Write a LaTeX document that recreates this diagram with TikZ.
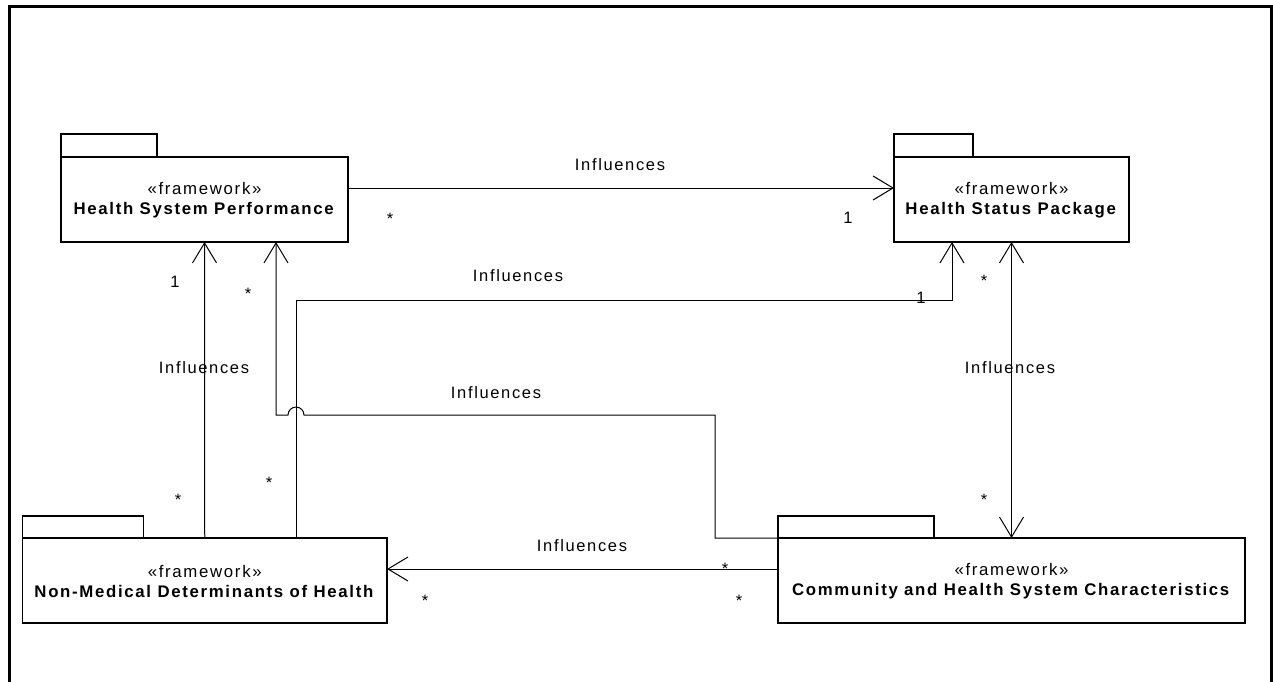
\documentclass[tikz,border=0pt]{standalone}
\usepackage{fontspec}
\newfontfamily\lsf{Liberation Sans}[LetterSpace=10]
\usetikzlibrary{arrows.meta}
\tikzset{
  pkg/.style={draw, line width=1.5pt, outer sep=0pt, inner sep=0pt, align=center,
    minimum height=85pt, font=\lsf\fontsize{16.8}{20}\selectfont},
  tabline/.style={draw, line width=1.5pt},
  conn/.style={line width=1pt},
  lbl/.style={anchor=base, inner sep=0pt, font=\lsf\fontsize{16.5}{19}\selectfont},
  >={Straight Barb[length=20pt,width=24pt]}
}
\begin{document}
\begin{tikzpicture}[x=1pt,y=-1pt]
\useasboundingbox (0,0) rectangle (1273,681);
% frame
\draw[line width=3pt] (9.5,690) -- (9.5,6.5) -- (1271,6.5) -- (1271,690);
% packages
\node[pkg, minimum width=287pt] (hsp) at (204.5,199.5) {\strut«framework»\\\textbf{Health System Performance}};
\node[pkg, minimum width=235pt] (hspk) at (1011.5,199.5) {\strut«framework»\\\textbf{Health Status Package}};
\node[pkg, minimum width=364.5pt] (nmd) at (204.75,580.5) {\strut«framework»\\\textbf{Non-Medical Determinants of Health}};
\node[pkg, minimum width=467pt] (chs) at (1011.5,580.5) {\strut«framework»\\\textbf{Community and Health System Characteristics}};
% tabs
\draw[tabline] (hsp.north west) rectangle ++(96,-23);
\draw[tabline] (hspk.north west) rectangle ++(79,-23);
\draw[tabline] (nmd.north west) rectangle ++(121,-22);
\draw[tabline] (chs.north west) rectangle ++(156,-22);
% connectors
\draw[conn,->] ([yshift=11.5pt]hsp.east) -- ([yshift=11.5pt]hspk.west);
\draw[conn,->] (nmd.north) -- (hsp.south);
\draw[conn,->] ([xshift=91.3pt]nmd.north) |- (952,300) -- ([xshift=-59.5pt]hspk.south);
\draw[conn,->] (chs.north west) -- (715,538) -- (715,415) -- (304,415)
   arc[start angle=0, end angle=180, radius=8pt] -- (276,415) -- ([xshift=71.5pt]hsp.south);
\draw[conn,->] ([yshift=11.5pt]chs.west) -- ([yshift=11.5pt]nmd.east);
\draw[conn,<->] (hspk.south) -- (chs.north);
% labels
\node[lbl] (l1) at (620,170) {Influences};
\node[lbl] (l2) at (390,224) {*};
\node[lbl] (l3) at (848,223) {1};
\node[lbl] (l4) at (175,287) {1};
\node[lbl] (l5) at (204,373) {Influences};
\node[lbl] (l6) at (178,505) {*};
\node[lbl] (l7) at (518,281) {Influences};
\node[lbl] (l8) at (921,303) {1};
\node[lbl] (l9) at (269,488) {*};
\node[lbl] (l10) at (496,398) {Influences};
\node[lbl] (l11) at (248,299) {*};
\node[lbl] (l12) at (725,574) {*};
\node[lbl] (l13) at (739,606) {*};
\node[lbl] (l14) at (582,551) {Influences};
\node[lbl] (l15) at (425,606) {*};
\node[lbl] (l16) at (984,286) {*};
\node[lbl] (l17) at (1010,373) {Influences};
\node[lbl] (l18) at (984,505) {*};
\end{tikzpicture}
\end{document}
